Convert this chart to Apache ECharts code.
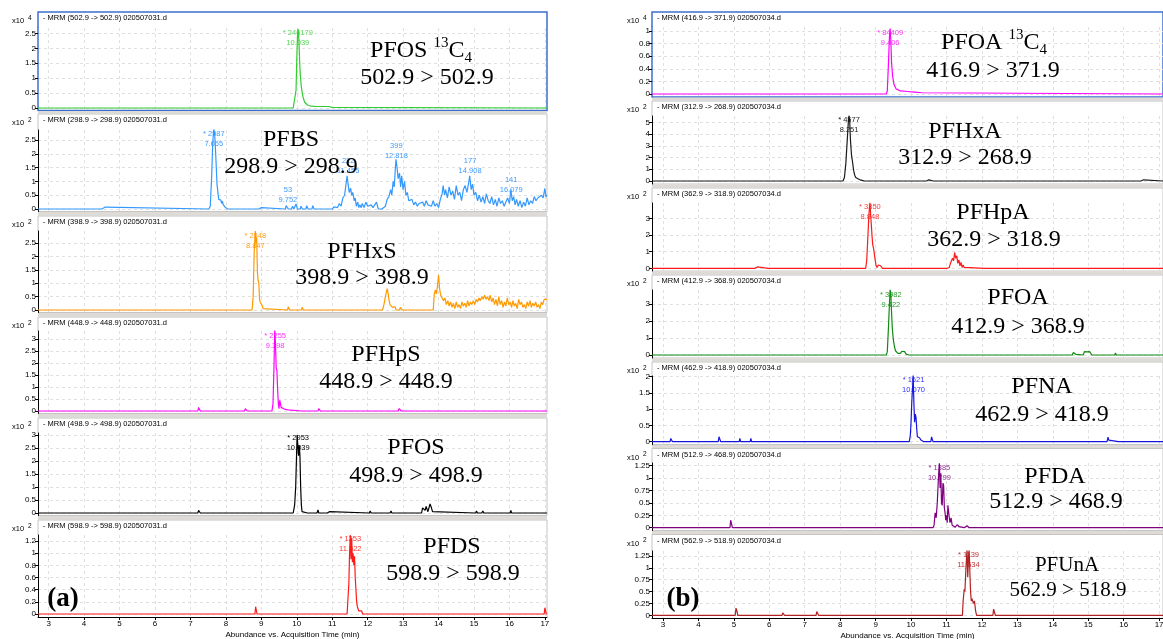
<!DOCTYPE html>
<html><head><meta charset="utf-8">
<script src="https://cdn.jsdelivr.net/npm/echarts/dist/echarts.min.js"></script>
<style>html,body{margin:0;padding:0;background:#fff}#c{width:1163px;height:639px}</style>
</head><body><div id="c"></div>
<script>
// ---------- tick labels ----------
const timeTicks = [3,4,5,6,7,8,9,10,11,12,13,14,15,16,17];
const ticksA = [0,0.5,1,1.5,2,2.5];
const ticksB = [0,0.5,1,1.5,2,2.5,3];
const ticksC = [0,0.2,0.4,0.6,0.8,1,1.2];
const ticksD = [0,0.2,0.4,0.6,0.8,1];
const ticksE = [0,1,2,3,4,5];
const ticksF = [0,1,2,3];
const ticksG = [0,0.5,1,1.5,2];
const ticksH = [0,0.25,0.5,0.75,1,1.25];

// ---------- series values [time (min), abundance (x10^n)] ----------
const pfos13c4 = [[2.7,0],[9.9,0],[9.95,0.05],[9.98,0.6],[10.0,1.6],[10.02,2.4],[10.04,2.65],[10.06,2.3],[10.08,1.6],[10.1,1.1],[10.13,0.7],[10.17,0.4],[10.22,0.2],[10.3,0.1],[10.4,0.06],[10.6,0.05],[10.9,0.05],[11.0,0.02],[11.05,0],[17.06,0]];
const pfbs = [[2.7,0],[4.5,0],[4.52,0.07],[4.6,0.07],[4.62,0],[7.52,0],[7.56,0.1],[7.6,1.2],[7.63,2.4],[7.66,2.95],[7.69,2.6],[7.72,1.8],[7.75,0.9],[7.78,0.55],[7.8,0.35],[7.83,0.28],[7.86,0.32],[7.88,0.2],[7.9,0.28],[7.93,0.15],[7.96,0.2],[7.99,0.05],[8.02,0.12],[8.05,0],[8.93,0],[8.95,0.05],[9.0,0.05],[9.02,0],[9.68,0],[9.7,0.12],[9.74,0.15],[9.76,0],[9.85,0],[9.88,0.1],[9.9,0.12],[9.92,0],[9.96,0],[9.98,0.18],[10.0,0.12],[10.02,0],[10.1,0],[10.12,0.1],[10.14,0.1],[10.16,0],[10.26,0],[10.28,0.12],[10.3,0.12],[10.32,0],[10.43,0],[10.45,0.12],[10.47,0.12],[10.49,0],[11.0,0],[11.05,0.08],[11.1,0.12],[11.15,0.05],[11.2,0.2],[11.25,0.1],[11.3,0.4],[11.35,0.5],[11.38,0.45],[11.42,1.2],[11.45,0.9],[11.48,0.6],[11.52,0.75],[11.55,0.5],[11.58,0.6],[11.62,0.3],[11.65,0.4],[11.68,0.1],[11.72,0.25],[11.75,0.05],[11.78,0.15],[11.82,0.05],[11.85,0.2],[11.9,0.05],[11.95,0.25],[12.0,0.1],[12.05,0.05],[12.1,0.15],[12.15,0.05],[12.2,0.1],[12.25,0.25],[12.3,0],[12.35,0.05],[12.4,0],[12.45,0.05],[12.5,0.1],[12.55,0.35],[12.6,0.45],[12.65,0.7],[12.68,0.5],[12.72,1.0],[12.75,0.8],[12.78,1.45],[12.8,1.8],[12.83,1.5],[12.86,1.1],[12.9,1.3],[12.93,0.8],[12.96,1.2],[13.0,0.7],[13.04,1.0],[13.08,0.5],[13.12,0.6],[13.16,0.3],[13.2,0.25],[13.25,0.35],[13.3,0.15],[13.35,0.25],[13.4,0.1],[13.45,0.2],[13.5,0.15],[13.55,0.25],[13.6,0.1],[13.65,0.3],[13.7,0.15],[13.75,0.2],[13.8,0.1],[13.85,0.3],[13.9,0.1],[13.95,0.2],[14.0,0.05],[14.05,0.35],[14.1,0.55],[14.13,0.85],[14.17,0.5],[14.2,0.7],[14.25,0.4],[14.3,0.8],[14.35,0.5],[14.4,0.65],[14.45,0.35],[14.5,0.85],[14.55,0.5],[14.6,0.6],[14.65,0.3],[14.7,0.7],[14.75,0.85],[14.8,0.6],[14.85,0.95],[14.88,1.2],[14.92,0.7],[14.96,0.9],[15.0,0.5],[15.05,0.6],[15.1,0.3],[15.15,0.5],[15.2,0.25],[15.25,0.45],[15.3,0.2],[15.35,0.55],[15.4,0.3],[15.45,0.2],[15.5,0.45],[15.55,0.15],[15.6,0.35],[15.65,0.1],[15.7,0.4],[15.75,0.2],[15.8,0.3],[15.85,0.1],[15.9,0.25],[15.95,0.4],[16.0,0.2],[16.04,0.7],[16.08,0.3],[16.12,0.45],[16.16,0.15],[16.2,0.35],[16.25,0.1],[16.3,0.3],[16.35,0.05],[16.4,0.25],[16.45,0.1],[16.5,0.4],[16.55,0.15],[16.6,0.3],[16.65,0.2],[16.7,0.45],[16.75,0.3],[16.8,0.4],[16.85,0.35],[16.9,0.5],[16.95,0.4],[17.0,0.75],[17.03,0.45],[17.06,0.5]];
const pfhxs = [[2.7,0],[8.74,0],[8.77,0.5],[8.8,2.2],[8.83,2.95],[8.85,2.5],[8.87,2.7],[8.89,1.4],[8.91,1.1],[8.93,1.0],[8.95,0.4],[8.97,0.3],[9.0,0.35],[9.03,0.15],[9.05,0.05],[9.08,0],[9.74,0],[9.76,0.12],[9.78,0.1],[9.8,0],[10.13,0],[10.15,0.1],[10.17,0.1],[10.19,0],[12.42,0],[12.46,0.2],[12.5,0.5],[12.55,0.8],[12.58,0.6],[12.6,0.4],[12.63,0.2],[12.66,0.25],[12.7,0.1],[12.74,0.05],[12.78,0.12],[12.8,0],[12.9,0],[12.92,0.1],[12.95,0.05],[12.97,0],[13.85,0],[13.88,0.6],[13.91,0.75],[13.94,0.6],[13.97,0.9],[14.0,1.3],[14.03,0.8],[14.06,0.55],[14.1,0.6],[14.14,0.35],[14.18,0.45],[14.22,0.2],[14.26,0.35],[14.3,0.15],[14.34,0.3],[14.38,0.1],[14.42,0.25],[14.46,0.05],[14.5,0.3],[14.54,0.1],[14.58,0.2],[14.62,0.05],[14.66,0.3],[14.7,0.15],[14.74,0.25],[14.78,0.1],[14.82,0.35],[14.86,0.15],[14.9,0.3],[14.94,0.2],[14.98,0.35],[15.02,0.2],[15.06,0.4],[15.1,0.3],[15.14,0.45],[15.18,0.35],[15.22,0.5],[15.26,0.4],[15.3,0.55],[15.34,0.4],[15.38,0.5],[15.42,0.35],[15.46,0.55],[15.5,0.3],[15.54,0.45],[15.58,0.2],[15.62,0.4],[15.66,0.15],[15.7,0.5],[15.74,0.2],[15.78,0.35],[15.82,0.1],[15.86,0.3],[15.9,0.15],[15.94,0.45],[15.98,0.2],[16.02,0.3],[16.06,0.1],[16.1,0.35],[16.14,0.15],[16.18,0.25],[16.22,0.05],[16.26,0.4],[16.3,0.2],[16.34,0.3],[16.38,0.1],[16.42,0.2],[16.46,0.05],[16.5,0.3],[16.54,0.15],[16.58,0.35],[16.62,0.1],[16.66,0.25],[16.7,0.15],[16.74,0.3],[16.78,0.1],[16.82,0.2],[16.86,0.05],[16.9,0.3],[16.94,0.2],[16.98,0.4],[17.02,0.35],[17.06,0.4]];
const pfhps = [[2.7,0],[7.21,0],[7.23,0.15],[7.26,0.15],[7.28,0],[8.53,0],[8.55,0.1],[8.58,0.1],[8.6,0],[9.3,0],[9.33,0.3],[9.36,2.0],[9.38,3.4],[9.4,2.8],[9.42,1.8],[9.44,1.7],[9.46,0.9],[9.48,0.3],[9.5,0.1],[9.52,0.45],[9.54,0.3],[9.56,0.15],[9.6,0.1],[9.65,0.08],[9.7,0.1],[9.75,0.05],[9.8,0],[10.14,0],[10.16,0.06],[10.18,0],[10.6,0],[10.62,0.1],[10.65,0.1],[10.67,0],[12.21,0],[12.23,0.05],[12.25,0],[12.86,0],[12.89,0.1],[12.92,0.12],[12.95,0],[15.96,0],[15.98,0.06],[16.0,0],[17.06,0]];
const pfos = [[2.7,0],[7.21,0],[7.23,0.1],[7.26,0.1],[7.28,0],[9.5,0],[9.52,0.03],[9.55,0],[9.9,0],[9.94,0.3],[9.97,1.0],[9.99,2.0],[10.01,3.0],[10.03,2.6],[10.05,2.2],[10.07,2.6],[10.09,2.2],[10.11,1.0],[10.13,0.3],[10.15,0.05],[10.18,0],[10.3,0],[10.32,0.03],[10.35,0],[10.57,0],[10.6,0.12],[10.62,0],[10.86,0],[10.88,0.05],[10.92,0.05],[10.94,0],[12.05,0],[12.07,0.08],[12.1,0],[12.63,0],[12.66,0.08],[12.68,0],[13.52,0],[13.55,0.2],[13.58,0.15],[13.62,0.1],[13.65,0.25],[13.7,0.05],[13.73,0.2],[13.76,0.35],[13.8,0.2],[13.83,0.05],[13.86,0],[15.05,0],[15.07,0.08],[15.1,0],[15.22,0],[15.25,0.08],[15.28,0],[16.02,0],[16.04,0.1],[16.06,0],[17.06,0]];
const pfds = [[2.7,0],[8.82,0],[8.84,0.12],[8.86,0.1],[8.88,0],[11.42,0],[11.44,0.2],[11.47,0.5],[11.49,1.0],[11.51,1.3],[11.53,0.9],[11.55,1.25],[11.57,0.85],[11.59,1.0],[11.61,0.8],[11.63,0.95],[11.65,0.6],[11.67,0.4],[11.69,0.2],[11.71,0.12],[11.73,0.15],[11.75,0.05],[11.78,0.08],[11.8,0.02],[11.83,0.05],[11.86,0],[16.98,0],[17.0,0.1],[17.02,0.1],[17.04,0],[17.06,0]];
const pfoa13c4 = [[2.69,0],[9.3,0],[9.33,0.05],[9.36,0.45],[9.39,0.9],[9.41,1.04],[9.43,0.85],[9.45,0.5],[9.48,0.28],[9.52,0.15],[9.58,0.08],[9.7,0.05],[9.9,0.04],[10.1,0.03],[10.3,0.02],[10.35,0],[17.11,0]];
const pfhxa = [[2.69,0],[3.06,0],[3.08,0.1],[3.1,0],[3.76,0],[3.78,0.12],[3.8,0],[5.12,0],[5.14,0.08],[5.16,0],[5.63,0],[5.65,0.08],[5.67,0],[7.1,0],[7.12,0.08],[7.14,0],[8.08,0],[8.12,0.3],[8.16,1.5],[8.2,3.5],[8.23,5.0],[8.25,5.6],[8.27,5.0],[8.29,3.5],[8.32,2.2],[8.35,1.6],[8.38,0.9],[8.41,0.5],[8.44,0.3],[8.47,0.45],[8.5,0.2],[8.53,0.35],[8.56,0.1],[8.59,0.25],[8.62,0.05],[8.65,0.15],[8.68,0],[9.09,0],[9.11,0.08],[9.13,0],[10.0,0],[10.02,0.06],[10.04,0],[10.44,0],[10.47,0.15],[10.5,0.1],[10.52,0],[10.63,0],[10.65,0.06],[10.67,0],[12.77,0],[12.79,0.08],[12.81,0],[13.85,0],[13.87,0.06],[13.89,0],[14.19,0],[14.21,0.1],[14.23,0],[14.51,0],[14.53,0.06],[14.55,0],[15.19,0],[15.21,0.06],[15.23,0],[16.49,0],[16.52,0.12],[16.56,0.1],[16.58,0],[17.11,0]];
const pfhpa = [[2.69,0],[3.99,0],[4.01,0.12],[4.04,0.1],[4.06,0],[5.0,0],[5.02,0.05],[5.04,0],[5.2,0],[5.22,0.08],[5.24,0],[5.41,0],[5.43,0.06],[5.45,0],[5.6,0],[5.63,0.1],[5.66,0.08],[5.69,0.1],[5.71,0],[5.97,0],[5.99,0.06],[6.01,0],[6.47,0],[6.49,0.04],[6.51,0],[7.13,0],[7.15,0.08],[7.17,0],[7.89,0],[7.91,0.03],[7.93,0],[8.72,0],[8.75,0.5],[8.78,1.8],[8.81,3.2],[8.84,3.95],[8.86,3.2],[8.88,2.6],[8.9,1.9],[8.92,1.4],[8.95,1.1],[8.98,0.6],[9.01,0.2],[9.04,0.05],[9.08,0.2],[9.11,0.3],[9.14,0.15],[9.17,0.05],[9.2,0],[9.53,0],[9.55,0.05],[9.57,0],[9.77,0],[9.79,0.06],[9.81,0],[10.1,0],[10.12,0.1],[10.14,0],[11.02,0],[11.05,0.1],[11.08,0.05],[11.11,0.3],[11.14,0.2],[11.17,0.6],[11.2,0.45],[11.23,0.95],[11.26,0.6],[11.29,0.75],[11.32,0.3],[11.35,0.5],[11.38,0.15],[11.41,0.35],[11.44,0.05],[11.47,0.2],[11.5,0.05],[11.53,0],[12.08,0],[12.1,0.08],[12.12,0],[12.2,0],[12.22,0.06],[12.24,0],[12.63,0],[12.65,0.08],[12.67,0],[13.56,0],[13.58,0.06],[13.6,0],[14.28,0],[14.3,0.06],[14.32,0],[14.98,0],[15.0,0.06],[15.02,0],[16.2,0],[16.22,0.05],[16.24,0],[16.45,0],[16.47,0.06],[16.49,0],[17.11,0]];
const pfoa = [[2.69,0],[3.5,0],[3.53,0.08],[3.56,0],[9.3,0],[9.33,0.2],[9.36,1.5],[9.39,3.0],[9.41,3.85],[9.43,3.6],[9.45,2.5],[9.47,1.6],[9.5,0.9],[9.53,0.5],[9.56,0.25],[9.6,0.3],[9.63,0.1],[9.66,0.15],[9.7,0.1],[9.74,0.22],[9.78,0.15],[9.82,0.2],[9.86,0.05],[9.9,0.1],[9.94,0],[12.98,0],[13.0,0.08],[13.02,0],[13.59,0],[13.61,0.04],[13.63,0],[14.55,0],[14.58,0.15],[14.62,0.12],[14.65,0.04],[14.68,0.1],[14.7,0],[14.86,0],[14.89,0.2],[14.93,0.25],[14.97,0.18],[15.0,0.25],[15.04,0.2],[15.08,0.1],[15.1,0],[15.4,0],[15.42,0.06],[15.44,0],[15.75,0],[15.77,0.12],[15.79,0],[16.18,0],[16.2,0.1],[16.22,0],[17.11,0]];
const pfna = [[2.69,0],[3.2,0],[3.22,0.1],[3.25,0.12],[3.27,0],[4.56,0],[4.58,0.15],[4.61,0.12],[4.63,0],[5.15,0],[5.17,0.1],[5.19,0],[5.46,0],[5.48,0.1],[5.5,0],[9.95,0],[9.98,0.2],[10.0,0.6],[10.02,1.2],[10.04,1.6],[10.06,2.05],[10.08,1.2],[10.1,0.6],[10.12,0.85],[10.14,0.75],[10.16,0.4],[10.18,0.15],[10.21,0.18],[10.24,0.12],[10.28,0.05],[10.32,0.1],[10.36,0],[10.56,0],[10.58,0.15],[10.6,0.1],[10.62,0],[15.53,0],[15.56,0.14],[15.58,0.05],[15.6,0],[15.85,0],[15.87,0.06],[15.89,0],[16.0,0],[16.02,0.03],[16.04,0],[16.96,0],[16.98,0.05],[17.0,0],[17.11,0]];
const pfda = [[2.69,0],[4.89,0],[4.91,0.15],[4.94,0.12],[4.96,0],[10.62,0],[10.65,0.05],[10.68,0.3],[10.71,0.2],[10.74,0.5],[10.76,0.8],[10.78,1.1],[10.8,1.3],[10.82,0.8],[10.84,1.1],[10.86,0.5],[10.88,0.45],[10.9,0.9],[10.92,0.85],[10.94,0.4],[10.96,0.3],[10.98,0.15],[11.0,0.25],[11.02,0.1],[11.04,0.45],[11.06,0.47],[11.08,0.2],[11.1,0.1],[11.13,0.2],[11.16,0.05],[11.2,0.02],[11.25,0.01],[11.3,0.06],[11.33,0.1],[11.36,0.02],[11.4,0],[11.5,0],[11.54,0.03],[11.58,0.04],[11.62,0.05],[11.64,0],[17.11,0]];
const pfuna = [[2.69,0],[3.63,0],[3.65,0.03],[3.67,0],[5.04,0],[5.06,0.15],[5.09,0.08],[5.11,0],[6.36,0],[6.38,0.05],[6.41,0.04],[6.43,0],[7.32,0],[7.34,0.08],[7.37,0.06],[7.39,0],[11.45,0],[11.47,0.3],[11.5,0.55],[11.52,0.5],[11.55,1.0],[11.58,1.4],[11.6,0.8],[11.62,1.2],[11.64,1.4],[11.66,0.9],[11.68,0.5],[11.7,0.3],[11.72,0.35],[11.74,0.38],[11.76,0.25],[11.79,0.3],[11.82,0.1],[11.85,0],[12.31,0],[12.33,0.13],[12.36,0.1],[12.38,0],[12.6,0],[12.62,0.04],[12.64,0],[17.11,0]];

// ---------- layout & style ----------
const cols = [
  {left:38, right:547, xMin:2.70, xMax:17.06, expX:12, headX:43},
  {left:652, right:1163, xMin:2.69, xMax:17.11, expX:627, headX:657}
];
const panels = [
  {col:0, data:pfos13c4, color:'#33cc33', lc:'#55d555', head:'- MRM (502.9 -> 502.9) 020507031.d', exp:'4', ticks:ticksA, boxTop:12, boxBottom:110.5, gridTop:28, zeroPx:108, topPx:33.4, sel:true,
   title:'{a|PFOS }{s|13}{a|C}{b|4}', tx:421, ty:51, sub:'502.9 > 502.9', sx:427, sy:78, labels:[['* 246179\n10.039',10.03,38]]},
  {col:0, data:pfbs, color:'#3399ff', lc:'#3f9cff', head:'- MRM (298.9 -> 298.9) 020507031.d', exp:'2', ticks:ticksA, boxTop:114, boxBottom:211.5, gridTop:130, zeroPx:209, topPx:140,
   title:'{a|PFBS}', tx:291, ty:140, sub:'298.9 > 298.9', sx:291, sy:167,
   labels:[['* 2987\n7.655',7.66,139],['53\n9.752',9.75,194.5],['222\n11.455',11.45,166],['399\n12.818',12.81,150.5],['177\n14.908',14.89,166],['141\n16.079',16.05,184.5]]},
  {col:0, data:pfhxs, color:'#ff9900', lc:'#ffa020', head:'- MRM (398.9 -> 398.9) 020507031.d', exp:'2', ticks:ticksA, boxTop:216, boxBottom:312.5, gridTop:231, zeroPx:310, topPx:243,
   title:'{a|PFHxS}', tx:362, ty:252, sub:'398.9 > 398.9', sx:362, sy:278, labels:[['* 2848\n8.847',8.83,241]]},
  {col:0, data:pfhps, color:'#ff00ff', lc:'#ff33ff', head:'- MRM (448.9 -> 448.9) 020507031.d', exp:'2', ticks:ticksB, boxTop:317, boxBottom:413.5, gridTop:331, zeroPx:411, topPx:339,
   title:'{a|PFHpS}', tx:386, ty:355, sub:'448.9 > 448.9', sx:386, sy:382, labels:[['* 2255\n9.398',9.39,341]]},
  {col:0, data:pfos, color:'#000000', lc:'#000000', head:'- MRM (498.9 -> 498.9) 020507031.d', exp:'2', ticks:ticksB, boxTop:418, boxBottom:515.5, gridTop:433, zeroPx:513, topPx:435,
   title:'{a|PFOS}', tx:416, ty:448, sub:'498.9 > 498.9', sx:416, sy:476, labels:[['* 2953\n10.039',10.04,442.5]]},
  {col:0, data:pfds, color:'#ff1a1a', lc:'#ff3333', head:'- MRM (598.9 -> 598.9) 020507031.d', exp:'2', ticks:ticksC, boxTop:520, boxBottom:617, gridTop:535, zeroPx:614, topPx:541, bottom:true,
   title:'{a|PFDS}', tx:452, ty:547, sub:'598.9 > 598.9', sx:453, sy:574, labels:[['* 1253\n11.522',11.51,543.5]], tag:'(a)', gx:63, gy:599},
  {col:1, data:pfoa13c4, color:'#ff00ff', lc:'#ff33ff', head:'- MRM (416.9 -> 371.9) 020507034.d', exp:'4', ticks:ticksD, boxTop:12, boxBottom:97, gridTop:27, zeroPx:94, topPx:31, sel:true,
   title:'{a|PFOA }{s|13}{a|C}{b|4}', tx:994, ty:43, sub:'416.9 > 371.9', sx:993, sy:71, labels:[['* 84409\n9.406',9.41,37.7]]},
  {col:1, data:pfhxa, color:'#1a1a1a', lc:'#222222', head:'- MRM (312.9 -> 268.9) 020507034.d', exp:'2', ticks:ticksE, boxTop:101, boxBottom:184, gridTop:116, zeroPx:181, topPx:122.3,
   title:'{a|PFHxA}', tx:965, ty:132, sub:'312.9 > 268.9', sx:965, sy:158, labels:[['* 4577\n8.251',8.25,125]]},
  {col:1, data:pfhpa, color:'#ff1a1a', lc:'#ff4040', head:'- MRM (362.9 -> 318.9) 020507034.d', exp:'2', ticks:ticksF, boxTop:188, boxBottom:271, gridTop:203, zeroPx:268.3, topPx:218.3,
   title:'{a|PFHpA}', tx:993, ty:213, sub:'362.9 > 318.9', sx:994, sy:240, labels:[['* 3350\n8.848',8.84,212.3]]},
  {col:1, data:pfoa, color:'#108a10', lc:'#2e9e2e', head:'- MRM (412.9 -> 368.9) 020507034.d', exp:'2', ticks:ticksF, boxTop:275, boxBottom:358, gridTop:290, zeroPx:355, topPx:304,
   title:'{a|PFOA}', tx:1018, ty:298, sub:'412.9 > 368.9', sx:1018, sy:327, labels:[['* 3982\n9.422',9.43,299.5]]},
  {col:1, data:pfna, color:'#1515e0', lc:'#3333ff', head:'- MRM (462.9 -> 418.9) 020507034.d', exp:'2', ticks:ticksG, boxTop:362, boxBottom:444.5, gridTop:376, zeroPx:441.7, topPx:376.7,
   title:'{a|PFNA}', tx:1042, ty:387, sub:'462.9 > 418.9', sx:1042, sy:415, labels:[['* 1621\n10.070',10.07,384.7]]},
  {col:1, data:pfda, color:'#800080', lc:'#993399', head:'- MRM (512.9 -> 468.9) 020507034.d', exp:'2', ticks:ticksH, boxTop:448.5, boxBottom:530.5, gridTop:463, zeroPx:527.7, topPx:465.7,
   title:'{a|PFDA}', tx:1055, ty:477, sub:'512.9 > 468.9', sx:1056, sy:502, labels:[['* 1385\n10.799',10.8,472.8]]},
  {col:1, data:pfuna, color:'#b22222', lc:'#cc3333', head:'- MRM (562.9 -> 518.9) 020507034.d', exp:'2', ticks:ticksH, boxTop:534.5, boxBottom:618, gridTop:551, zeroPx:615.3, topPx:556, bottom:true, small:true,
   title:'{a|PFUnA}', tx:1067, ty:565, sub:'562.9 > 518.9', sx:1068, sy:590, labels:[['* 1139\n11.634',11.62,559.7]], tag:'(b)', gx:683, gy:599}
];

const SANS = 'Liberation Sans, Arial, sans-serif';
const SERIF = 'Liberation Serif, Times New Roman, serif';
const dash = {type:[3,3], color:'#e0e0e0', width:1};

const grid=[], xAxis=[], yAxis=[], series=[], els=[];
panels.forEach((p,i)=>{
  const c = cols[p.col];
  const top = p.ticks[p.ticks.length-1];
  const ppu = (p.zeroPx - p.topPx)/top;
  const yMax = (p.zeroPx - p.gridTop)/ppu;
  const yMin = -(p.boxBottom - p.zeroPx)/ppu;
  const axisColor = p.sel ? '#3b6fcf' : '#000';
  grid.push({left:c.left, top:p.gridTop, width:c.right-c.left, height:p.boxBottom-p.gridTop, containLabel:false, outerBoundsMode:'none'});
  xAxis.push({type:'value', gridIndex:i, min:c.xMin, max:c.xMax, z:1,
    axisLine:{show:!!p.bottom, onZero:false, lineStyle:{color:'#000', width:1}},
    axisTick:{show:!!p.bottom, length:3, customValues:timeTicks, lineStyle:{color:'#000'}},
    axisLabel:{show:!!p.bottom, customValues:timeTicks, fontSize:8, margin:3, color:'#000', fontFamily:SANS},
    splitLine:{show:true, lineStyle:dash},
    name: p.bottom ? 'Abundance vs. Acquisition Time (min)' : '', nameLocation:'middle', nameGap:14,
    nameTextStyle:{fontSize:8, color:'#000', fontFamily:SANS}
  });
  yAxis.push({type:'value', gridIndex:i, min:yMin, max:yMax, z:1,
    axisLine:{show:true, lineStyle:{color:axisColor, width:p.sel?1.5:1}},
    axisTick:{show:true, length:3, customValues:p.ticks, lineStyle:{color:'#000'}},
    axisLabel:{show:true, customValues:p.ticks, fontSize:8, margin:2, color:'#000', fontFamily:SANS},
    splitLine:{show:true, lineStyle:dash}
  });
  series.push({type:'line', xAxisIndex:i, yAxisIndex:i, data:p.data, showSymbol:false, symbol:'none',
    animation:false, lineStyle:{color:p.color, width:1.2}, itemStyle:{color:p.color},
    markPoint:{z:1, symbol:'circle', symbolSize:1, animation:false, silent:true,
      itemStyle:{color:'rgba(0,0,0,0)'},
      label:{show:true, position:'inside', color:p.lc, fontSize:7.5, lineHeight:10, fontFamily:SANS},
      data:p.labels.map(l=>({coord:[l[1], (p.zeroPx - l[2])/ppu], label:{formatter:l[0]}}))
    }
  });
  // frame (without left edge over plot area)
  const fc = p.sel ? '#3b6fcf' : '#c4c4c4';
  const fw = p.sel ? 1.5 : 1;
  const pts = [[c.left, p.gridTop],[c.left, p.boxTop],[c.right, p.boxTop],[c.right, p.boxBottom]];
  if (!p.bottom) pts.push([c.left, p.boxBottom]);
  els.push({type:'polyline', z:0, shape:{points:pts}, style:{stroke:fc, lineWidth:fw, fill:null}, silent:true});
  // header
  els.push({type:'text', z:50, x:c.headX, y:p.boxTop+6, style:{text:p.head, fontSize:7.5, fontFamily:SANS, fill:'#000', align:'left', verticalAlign:'middle'}});
  els.push({type:'text', z:50, x:c.expX, y:p.boxTop+9, style:{text:'x10', fontSize:7.5, fontFamily:SANS, fill:'#000', align:'left', verticalAlign:'middle'}});
  els.push({type:'text', z:50, x:c.expX+16, y:p.boxTop+6, style:{text:p.exp, fontSize:6.5, fontFamily:SANS, fill:'#000', align:'left', verticalAlign:'middle'}});
  // compound name + transition
  const fs = p.small ? 21 : 24;
  els.push({type:'text', z:50, x:p.tx, y:p.ty, style:{text:p.title, align:'center', verticalAlign:'middle',
    rich:{a:{fontSize:fs, fontFamily:SERIF, fill:'#000', lineHeight:30},
          s:{fontSize:Math.round(fs*0.62), fontFamily:SERIF, fill:'#000', verticalAlign:'top', lineHeight:14},
          b:{fontSize:Math.round(fs*0.62), fontFamily:SERIF, fill:'#000', verticalAlign:'bottom', lineHeight:14}}}});
  els.push({type:'text', z:50, x:p.sx, y:p.sy, style:{text:p.sub, fontSize:fs, fontFamily:SERIF, fill:'#000', align:'center', verticalAlign:'middle'}});
  if (p.tag) els.push({type:'text', z:50, x:p.gx, y:p.gy, style:{text:p.tag, fontSize:27, fontWeight:'bold', fontFamily:SERIF, fill:'#000', align:'center', verticalAlign:'middle'}});
  // gap band to next panel in same column
  const nx = panels[i+1];
  if (nx && nx.col === p.col) {
    els.push({type:'rect', z:0, shape:{x:c.left, y:p.boxBottom+0.5, width:c.right-c.left, height:nx.boxTop-p.boxBottom-1}, style:{fill:'#dedbd6'}, silent:true});
  }
});

const chart = echarts.init(document.getElementById('c'), null, {renderer:'canvas'});
chart.setOption({animation:false, backgroundColor:'#fff', grid, xAxis, yAxis, series, graphic:{elements:els}});
</script></body></html>
